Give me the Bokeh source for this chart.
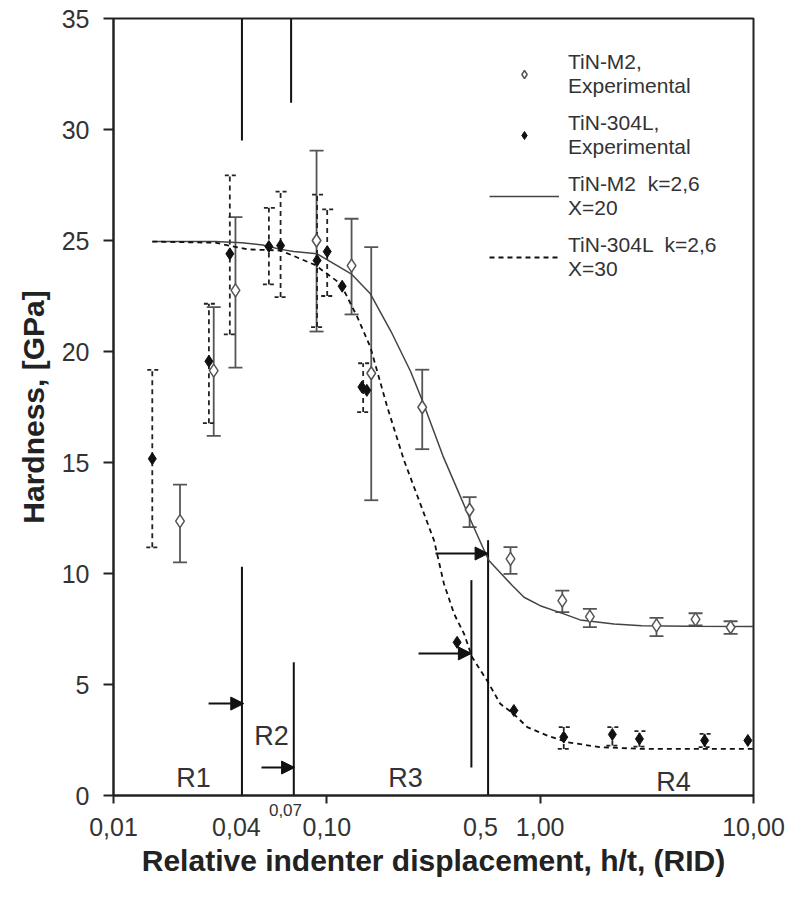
from bokeh.plotting import figure
from bokeh.models import (ColumnDataSource, Whisker, TeeHead, Arrow, NormalHead,
                          Legend, LegendItem, FixedTicker, Range1d, LogAxis)
from bokeh.core.properties import value
from bokeh.embed import file_html
from bokeh.resources import INLINE

FONT = "Liberation Sans"

# ---------------- data ----------------
# TiN-M2 experimental (open diamonds, solid error bars)
m2_x = [0.0205, 0.0295, 0.0373, 0.0895, 0.1306, 0.1615, 0.280, 0.467, 0.726, 1.27, 1.71, 3.51, 5.35, 7.81]
m2_y = [12.36, 19.14, 22.75, 25.0, 23.87, 19.02, 17.49, 12.87, 10.66, 8.78, 8.06, 7.66, 7.93, 7.58]
m2_hi = [14.0, 22.0, 26.05, 29.05, 25.98, 24.7, 19.18, 13.44, 11.19, 9.23, 8.41, 8.0, 8.21, 7.85]
m2_lo = [10.5, 16.2, 19.27, 20.9, 21.67, 13.3, 15.6, 12.09, 9.98, 8.26, 7.58, 7.18, 7.66, 7.28]

# TiN-304L experimental (filled diamonds, dashed error bars)
s_x = [0.0152, 0.028, 0.0351, 0.0535, 0.0607, 0.090, 0.1004, 0.118, 0.146, 0.154,
       0.408, 0.753, 1.29, 2.18, 2.92, 5.90, 9.41]
s_y = [15.17, 19.56, 24.4, 24.73, 24.77, 24.1, 24.5, 22.94, 18.4, 18.25,
       6.9, 3.83, 2.63, 2.75, 2.55, 2.48, 2.48]
s_err_x = [0.0152, 0.028, 0.0351, 0.0535, 0.0607, 0.090, 0.1004, 0.148, 1.29, 2.18, 2.92, 5.90]
s_err_hi = [19.17, 22.15, 27.93, 26.47, 27.2, 27.07, 26.4, 19.47, 3.08, 3.08, 2.9, 2.78]
s_err_lo = [11.18, 16.77, 20.77, 23.02, 22.45, 21.1, 22.5, 17.27, 2.1, 2.25, 2.2, 2.18]

# Model curves
m2_fit_x = [0.0152, 0.03, 0.04, 0.05, 0.0607, 0.07, 0.09, 0.13, 0.16, 0.2, 0.247, 0.28,
            0.35, 0.467, 0.556, 0.575, 0.74, 0.84, 1.0, 1.29, 1.54, 2.22, 3.0, 5.0, 10.0]
m2_fit_y = [24.95, 24.95, 24.9, 24.8, 24.6, 24.5, 24.4, 23.5, 22.6, 20.9, 19.1, 17.8,
            15.3, 12.5, 10.88, 10.59, 9.46, 8.93, 8.55, 8.18, 7.91, 7.73, 7.65, 7.62, 7.61]
s_fit_x = [0.0152, 0.03, 0.0424, 0.0607, 0.088, 0.116, 0.139, 0.16, 0.192, 0.23, 0.318,
           0.354, 0.395, 0.44, 0.48, 0.57, 0.65, 0.75, 0.87, 1.08, 1.34, 1.9, 3.0, 10.0]
s_fit_y = [24.95, 24.9, 24.6, 24.55, 23.9, 23.05, 21.55, 20.2, 17.5, 15.1, 11.49,
           9.54, 8.18, 7.28, 6.23, 5.1, 4.13, 3.68, 3.08, 2.7, 2.4, 2.18, 2.1, 2.1]

# Region boundary lines
vl_x = [0.04, 0.068, 0.04, 0.07, 0.57, 0.476]
vl_y0 = [35, 35, 0, 0, 0, 1.26]
vl_y1 = [29.5, 31.2, 10.3, 6.0, 11.5, 9.7]

# Arrows
ar_x0 = [0.0279, 0.0494, 0.269, 0.323]
ar_x1 = [0.0408, 0.0706, 0.476, 0.57]
ar_y = [4.14, 1.26, 6.4, 10.9]

# Region labels
reg_text = ["R1", "R2", "R3", "R4"]
reg_x = [0.0237, 0.055, 0.234, 4.22]
reg_y = [0.8, 2.7, 0.8, 0.6]

# Axis ticks
x_tick_marks = [0.01, 0.1, 1, 10]
x_label_pos = [0.01, 0.0377, 0.1, 0.525, 1, 10]
x_label_text = ["0,01", "0,04", "0,10", "0,5", "1,00", "10,00"]
small_label_pos = [0.064]
small_label_text = ["0,07"]
y_ticks = [0, 5, 10, 15, 20, 25, 30, 35]

# ---------------- figure ----------------
p = figure(width=790, height=903, x_axis_type="log",
           x_range=Range1d(0.01, 10), y_range=Range1d(0, 35),
           output_backend="svg", toolbar_location=None,
           min_border_left=113, min_border_right=37, min_border_top=18, min_border_bottom=108)
p.background_fill_color = "white"
p.border_fill_color = "white"
p.grid.visible = False
p.outline_line_color = "#222222"
p.outline_line_width = 2

# x axis nearest the frame: tick marks (as minor ticks) + small "0,07" label
xa = p.xaxis[0]
xa.ticker = FixedTicker(ticks=small_label_pos, minor_ticks=x_tick_marks)
xa.major_label_overrides = {t: l for t, l in zip(small_label_pos, small_label_text)}
xa.axis_line_color = "#222222"
xa.axis_line_width = 2
xa.major_tick_line_color = None
xa.major_tick_in = 0
xa.major_tick_out = 8
xa.minor_tick_line_color = "#222222"
xa.minor_tick_line_width = 2
xa.minor_tick_in = 0
xa.minor_tick_out = 8
xa.major_label_standoff = 0
xa.major_label_text_font = FONT
xa.major_label_text_font_size = "17px"
xa.major_label_text_color = "#333333"

# second x axis: main tick labels and title
xb = LogAxis(ticker=FixedTicker(ticks=x_label_pos, minor_ticks=[]))
xb.major_label_overrides = {t: l for t, l in zip(x_label_pos, x_label_text)}
xb.axis_line_color = None
xb.major_tick_line_color = None
xb.minor_tick_line_color = None
xb.major_tick_in = 0
xb.major_tick_out = 0
xb.major_label_standoff = -1
xb.major_label_text_font = FONT
xb.major_label_text_font_size = "25px"
xb.major_label_text_color = "#333333"
xb.axis_label = "Relative indenter displacement, h/t, (RID)"
xb.axis_label_standoff = 5
xb.axis_label_text_font = FONT
xb.axis_label_text_font_size = "30px"
xb.axis_label_text_font_style = "bold"
xb.axis_label_text_color = "#222222"
p.add_layout(xb, "below")

ya = p.yaxis[0]
ya.ticker = FixedTicker(ticks=y_ticks)
ya.axis_line_color = "#222222"
ya.axis_line_width = 2
ya.major_tick_line_color = "#222222"
ya.major_tick_line_width = 2
ya.major_tick_in = 0
ya.major_tick_out = 10
ya.minor_tick_line_color = None
ya.major_label_standoff = 14
ya.major_label_text_font = FONT
ya.major_label_text_font_size = "25px"
ya.major_label_text_color = "#333333"
ya.axis_label = "Hardness, [GPa]"
ya.axis_label_standoff = 9
ya.axis_label_text_font = FONT
ya.axis_label_text_font_size = "30px"
ya.axis_label_text_font_style = "bold"
ya.axis_label_text_color = "#222222"

# region lines
p.segment(x0=vl_x, y0=vl_y0, x1=vl_x, y1=vl_y1, line_color="#111111", line_width=2)

# model curves
r_m2_fit = p.line(m2_fit_x, m2_fit_y, line_color="#444444", line_width=1.5)
r_s_fit = p.line(s_fit_x, s_fit_y, line_color="#111111", line_width=1.8, line_dash="5 4")

# error bars
m2_src = ColumnDataSource(dict(x=m2_x, y=m2_y, hi=m2_hi, lo=m2_lo))
p.add_layout(Whisker(source=m2_src, base="x", upper="hi", lower="lo",
                     line_color="#555555", line_width=1.8,
                     upper_head=TeeHead(size=14, line_color="#555555", line_width=1.8),
                     lower_head=TeeHead(size=14, line_color="#555555", line_width=1.8)))
s_err_src = ColumnDataSource(dict(x=s_err_x, hi=s_err_hi, lo=s_err_lo))
p.add_layout(Whisker(source=s_err_src, base="x", upper="hi", lower="lo",
                     line_color="#222222", line_width=1.8, line_dash="5 4",
                     upper_head=TeeHead(size=12, line_color="#222222", line_width=1.8, line_dash="4 3"),
                     lower_head=TeeHead(size=12, line_color="#222222", line_width=1.8, line_dash="4 3")))

# markers
r_m2 = p.scatter(m2_x, m2_y, marker="diamond", size=13, fill_color="white",
                 line_color="#555555", line_width=1.5)
r_s = p.scatter(s_x, s_y, marker="diamond", size=12, fill_color="#111111",
                line_color="#111111")

# arrows
ar_src = ColumnDataSource(dict(x0=ar_x0, x1=ar_x1, y=ar_y))
p.add_layout(Arrow(source=ar_src, x_start="x0", y_start="y", x_end="x1", y_end="y",
                   line_color="#111111", line_width=2,
                   end=NormalHead(size=13, fill_color="#111111", line_color="#111111")))

# region labels
p.text(x=reg_x, y=reg_y, text=reg_text, text_font=value(FONT), text_font_size="27px",
       text_color="#333333", text_align="center", text_baseline="middle")

# legend
legend = Legend(items=[
    LegendItem(label="TiN-M2,\nExperimental", renderers=[r_m2]),
    LegendItem(label="TiN-304L,\nExperimental", renderers=[r_s]),
    LegendItem(label="TiN-M2  k=2,6\nX=20", renderers=[r_m2_fit]),
    LegendItem(label="TiN-304L  k=2,6\nX=30", renderers=[r_s_fit]),
], location=(376, 514))
legend.border_line_color = None
legend.background_fill_alpha = 0
legend.glyph_width = 70
legend.label_standoff = 9
legend.label_text_font = FONT
legend.label_text_font_size = "21px"
legend.label_text_color = "#333333"
legend.padding = 28
legend.margin = 0
legend.spacing = 13
p.add_layout(legend)

open("out.html", "w").write(file_html(p, INLINE))
